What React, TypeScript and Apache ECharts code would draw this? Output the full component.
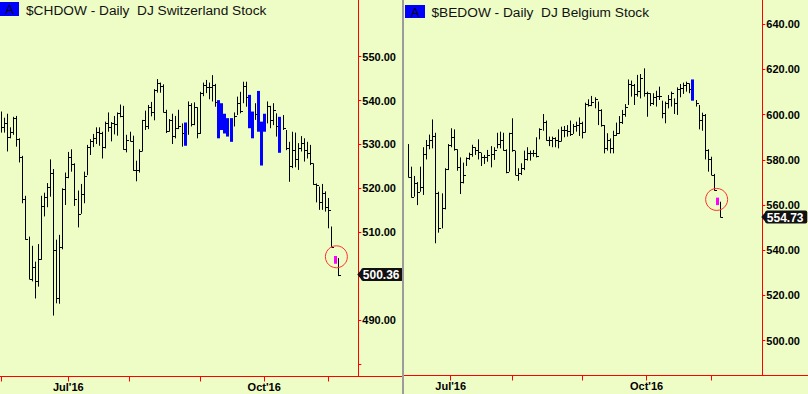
import React, { useEffect, useRef } from 'react';
import * as echarts from 'echarts';

// Trading-day index (0 = 1 Jun 2016) of the first session of each month
const monthTickIdx = [0, 22, 42, 65, 86, 107];
const quarterLabelIdx = [22, 86];
const quarterLabels = ["Jul'16", "Oct'16"];

// ---- $CHDOW (starts at index 0) ----
const chStart = 0;
const chHigh = [537.5,536.1,537.0,533.9,536.3,536.5,531.4,527.4,518.3,509.0, 506.9,503.3,507.3,518.3,519.0,521.2,526.6,524.4,508.3,509.4, 520.0,523.6,528.3,528.9,525.7,519.5,521.0,523.8,529.9,531.2, 532.4,533.9,533.9,532.9,535.2,537.3,535.1,536.5,537.3,539.1, 538.8,532.2,532.9,532.0,526.3,528.9,535.6,537.7,539.0,539.7, 542.6,544.9,544.1,543.7,537.9,535.8,537.0,536.5,537.9,534.8, 535.0,539.8,539.4,539.6,538.5,542.0,544.1,544.7,544.1,545.8, 543.8,540.1,539.4,537.0,536.0,536.0,537.3,540.9,542.0,544.3, 544.3,541.3,537.5,539.4,542.2,535.2,537.0,539.8,538.8,539.4, 537.1,536.3,536.7,533.3,530.6,532.9,532.7,530.3,531.9,531.4, 530.6,529.9,525.7,521.1,520.4,521.0,519.3,517.8,511.3,504.6, 504.1];
const chLow = [532.7,532.7,528.4,531.4,532.2,529.5,525.9,516.6,508.3,499.3, 498.8,494.9,497.6,503.7,513.6,515.7,518.1,491.0,493.8,493.7, 506.1,516.2,522.3,523.8,516.0,511.1,514.2,516.6,523.0,527.6, 529.4,530.1,529.7,526.8,529.1,532.9,530.7,532.3,532.0,536.2, 528.8,528.2,530.7,524.0,521.6,523.6,528.4,533.3,533.5,536.4, 535.5,541.8,541.8,537.3,532.6,532.9,530.1,531.4,533.5,529.5, 529.7,532.2,534.1,534.4,531.4,532.4,541.0,541.7,540.3,539.8, 538.6,531.4,533.3,532.5,531.8,530.6,534.1,536.7,537.1,539.4, 538.6,533.7,531.4,535.6,532.9,525.2,532.9,534.8,533.7,534.4, 531.8,528.1,533.3,528.7,521.5,524.6,524.8,524.2,528.4,526.1, 526.8,525.3,520.8,516.8,515.1,515.1,514.7,510.9,506.6,502.8, 500.0];
const chClose = [533.9,534.8,531.8,532.9,536.0,531.3,527.1,517.5,508.4,499.3, 502.0,498.8,503.9,516.0,518.1,520.3,523.5,506.0,494.9,506.6, 519.9,522.5,527.1,525.6,517.5,514.2,518.8,522.9,529.4,530.9, 531.4,532.9,532.7,529.4,535.0,533.9,534.8,534.7,537.1,536.4, 528.9,531.1,530.9,524.2,524.1,528.5,535.5,534.1,538.5,537.3, 542.4,544.0,543.4,537.5,533.0,535.6,531.9,533.7,534.2,532.7, 532.0,539.1,534.6,538.5,532.5,541.7,543.6,543.0,543.2,543.6, 539.6,533.0,535.0,534.0,533.0,535.0,536.5,539.4,537.7,543.3, 540.9,535.0,533.0,537.0,535.0,533.0,535.0,538.8,535.6,537.9, 534.1,532.0,533.7,529.1,525.0,528.7,526.6,529.1,530.3,528.7, 528.0,525.7,521.1,520.8,517.0,518.9,515.8,515.1,506.7,503.5, 500.36];
const chBlueIdx = [60, 71, 72, 73, 74, 75, 81, 82, 84, 85, 86, 91];
const chPinkIdx = [109];
const chCircle = [109.6, 504.4];
const chYTicks = [480, 490, 500, 510, 520, 530, 540, 550];
const chYLabels = [490, 510, 520, 530, 540, 550];

// ---- $BEDOW (starts at index 8) ----
const beStart = 8;
const beHigh = [587.0,577.0,572.9,570.2,577.0,585.6,588.8,591.2,597.9,592.0, 565.9,565.2,576.3,587.0,594.0,593.5,584.7,581.1,578.8,581.1, 583.2,586.7,585.6,589.1,583.2,582.2,584.4,586.1,585.6,592.0, 592.5,592.0,584.7,592.0,598.4,584.1,576.3,578.5,584.1,585.6, 584.1,584.4,590.0,594.0,600.3,597.4,590.3,590.3,590.0,593.5, 594.7,595.0,595.4,597.4,595.9,596.9,598.8,596.9,605.3,606.8, 608.3,607.7,605.8,602.4,595.4,591.8,589.5,592.9,596.5,599.4, 602.1,604.7,615.6,615.1,613.6,617.6,618.0,620.5,610.2,609.5, 609.5,610.6,612.4,606.2,605.8,608.7,610.2,607.2,612.1,613.6, 614.2,614.6,613.9,615.6,606.5,604.3,600.9,600.3,584.7,581.4, 573.8,563.3,561.5];
const beLow = [572.3,563.4,563.7,560.0,565.9,564.5,580.2,584.7,585.1,543.1, 547.8,549.7,558.1,575.5,585.6,584.1,575.2,564.9,569.6,577.3, 580.0,581.4,582.2,580.2,577.3,578.2,579.2,576.7,580.0,585.1, 585.1,584.1,574.1,574.8,583.6,573.3,570.8,573.3,575.5,579.7, 579.7,581.4,581.1,589.1,592.9,588.5,586.1,585.6,585.6,585.1, 588.1,590.0,590.3,590.6,591.5,592.5,590.6,589.5,592.0,603.6, 603.8,602.8,595.4,594.7,582.9,584.1,582.9,582.9,590.6,591.5, 595.9,599.1,604.3,608.0,604.3,608.0,607.2,608.0,599.1,603.8, 604.3,603.6,606.5,598.4,596.2,602.8,603.6,600.3,599.9,607.7, 609.2,610.2,609.5,606.2,603.6,593.5,592.9,580.2,574.8,573.3, 566.4,560.0,554.6];
const beClose = [572.3,563.7,569.6,565.9,568.2,582.6,586.6,588.8,590.6,565.2, 549.7,558.6,575.8,586.6,590.3,584.7,576.7,570.4,573.3,580.7, 582.6,585.6,584.4,583.6,581.1,581.4,582.2,582.6,584.4,587.0, 588.8,584.4,574.8,591.8,584.4,573.3,574.1,576.3,580.2,582.9, 582.9,582.9,581.7,593.5,596.9,588.8,588.8,589.5,588.8,588.5, 593.2,593.2,592.9,591.5,595.0,595.4,596.5,592.5,604.7,604.3, 605.8,606.8,602.1,595.4,585.1,588.8,585.1,591.0,592.0,596.9, 600.3,603.6,613.6,613.1,609.2,610.6,616.1,609.5,609.7,605.0, 608.0,608.3,608.3,600.9,605.0,606.8,609.7,605.3,611.2,611.7, 613.1,613.9,611.2,610.0,605.0,597.7,599.9,584.4,580.2,573.3, 566.7,561.0,554.73];
const beBlueIdx = [101];
const bePinkIdx = [109];
const beCircle = [108.9, 562.5];
const beYTicks = [500, 520, 540, 560, 580, 600, 620, 640];
const beYLabels = [500, 520, 540, 560, 580, 600, 620, 640];

const BG = '#eefdc6';
const RED = '#ff0000';
const FONT = '"Liberation Sans", Arial, sans-serif';

function buildData(start: number, hi: number[], lo: number[], cl: number[], blue: number[], pink: number[]) {
  return hi.map((h, k) => {
    const i = start + k;
    const kind = blue.includes(i) ? 1 : pink.includes(i) ? 2 : 0;
    return [i, h, lo[k], cl[k], kind];
  });
}

const renderBar = (_params: any, api: any) => {
  const i = api.value(0);
  const top = api.coord([i, api.value(1)]);
  const bot = api.coord([i, api.value(2)]);
  const cl = api.coord([i, api.value(3)]);
  const kind = api.value(4);
  const px = Math.round(top[0]);
  if (kind === 1 || kind === 2) {
    return {
      type: 'rect',
      shape: { x: px - 1, y: top[1], width: 3, height: Math.max(1, bot[1] - top[1]) },
      style: { fill: kind === 1 ? '#0000ff' : '#ff00ff' },
    };
  }
  const x = px + 0.5;
  const cy = Math.round(cl[1]) + 0.5;
  return {
    type: 'group',
    children: [
      { type: 'line', shape: { x1: x, y1: top[1], x2: x, y2: bot[1] }, style: { stroke: '#000', lineWidth: 1 } },
      { type: 'line', shape: { x1: x, y1: cy, x2: x + 2.5, y2: cy }, style: { stroke: '#000', lineWidth: 1 } },
    ],
  };
};

const xAxisCfg = (gridIndex: number, min: number, max: number) => ({
  type: 'value',
  gridIndex,
  min,
  max,
  axisLine: { show: true, onZero: false, lineStyle: { color: RED, width: 1 } },
  axisTick: { show: true, length: 5, customValues: monthTickIdx, lineStyle: { color: RED, width: 1 } },
  axisLabel: {
    customValues: quarterLabelIdx,
    formatter: (v: number) => {
      const k = quarterLabelIdx.indexOf(Math.round(v));
      return k >= 0 ? quarterLabels[k] : '';
    },
    fontFamily: FONT,
    fontWeight: 'bold',
    fontSize: 11,
    color: '#000',
    margin: 5,
  },
  splitLine: { show: false },
});

const yAxisCfg = (gridIndex: number, min: number, max: number, ticks: number[], labels: number[]) => ({
  type: 'value',
  gridIndex,
  position: 'right',
  min,
  max,
  axisLine: { show: true, onZero: false, lineStyle: { color: RED, width: 1 } },
  axisTick: { show: true, length: 3, customValues: ticks, lineStyle: { color: RED, width: 1 } },
  axisLabel: {
    customValues: labels,
    formatter: (v: number) => v.toFixed(2),
    fontFamily: FONT,
    fontWeight: 'bold',
    fontSize: 11,
    color: '#000',
    margin: 4,
  },
  splitLine: { show: false },
});

export default function App() {
  const ref = useRef<HTMLDivElement>(null);

  useEffect(() => {
    if (!ref.current) return;
    const chart = echarts.init(ref.current, null, { renderer: 'svg' });

    const chData = buildData(chStart, chHigh, chLow, chClose, chBlueIdx, chPinkIdx);
    const beData = buildData(beStart, beHigh, beLow, beClose, beBlueIdx, bePinkIdx);

    chart.setOption({
      animation: false,
      backgroundColor: BG,
      grid: [
        { left: 0, top: 0, width: 358.3, height: 376.5 },
        { left: 404, top: 0, width: 358.3, height: 375.5 },
      ],
      xAxis: [xAxisCfg(0, -0.327, 116.76), xAxisCfg(1, 6.73, 123.82)],
      yAxis: [
        yAxisCfg(0, 477.12, 562.92, chYTicks, chYLabels),
        yAxisCfg(1, 484.6, 650.75, beYTicks, beYLabels),
      ],
      series: [
        { type: 'custom', xAxisIndex: 0, yAxisIndex: 0, renderItem: renderBar, data: chData, encode: { x: 0, y: [1, 2] }, clip: true, silent: true },
        { type: 'custom', xAxisIndex: 1, yAxisIndex: 1, renderItem: renderBar, data: beData, encode: { x: 0, y: [1, 2] }, clip: true, silent: true },
      ],
    });

    const priceBox = (gridIndex: number, value: number) => {
      const p = chart.convertToPixel({ gridIndex }, [0, value]) as number[];
      const axisX = gridIndex === 0 ? 358.3 : 762.3;
      const yC = p[1];
      return [
        {
          type: 'polygon', z: 100,
          shape: { points: [[axisX - 1, yC], [axisX + 4, yC - 6], [axisX + 4, yC + 6]] },
          style: { fill: '#111' },
        },
        {
          type: 'rect', z: 100,
          shape: { x: axisX + 3, y: yC - 6.5, width: 42, height: 13, r: 2 },
          style: { fill: '#111' },
        },
        {
          type: 'text', z: 101, x: axisX + 4.5, y: yC + 0.5,
          style: { text: value.toFixed(2), fill: '#fff', fontFamily: FONT, fontWeight: 'bold', fontSize: 12, align: 'left', verticalAlign: 'middle' },
        },
      ];
    };

    const circle = (gridIndex: number, pt: number[]) => {
      const p = chart.convertToPixel({ gridIndex }, pt) as number[];
      return {
        type: 'circle', z: 100,
        shape: { cx: p[0], cy: p[1], r: 11 },
        style: { fill: 'none', stroke: '#ff3030', lineWidth: 1 },
      };
    };

    chart.setOption({
      graphic: [
        // axis line extensions
        { type: 'line', z: 90, shape: { x1: 358, y1: 376.5, x2: 403, y2: 376.5 }, style: { stroke: RED, lineWidth: 1 } },
        { type: 'line', z: 90, shape: { x1: 762, y1: 375.5, x2: 808, y2: 375.5 }, style: { stroke: RED, lineWidth: 1 } },
        circle(0, chCircle),
        circle(1, beCircle),
        ...priceBox(0, chClose[chClose.length - 1]),
        ...priceBox(1, beClose[beClose.length - 1]),
        // panel separator
        { type: 'rect', z: 110, shape: { x: 402, y: 0, width: 2, height: 394 }, style: { fill: '#9c9c9c' } },
        // titles
        { type: 'rect', z: 110, shape: { x: 0, y: 2, width: 19, height: 14 }, style: { fill: '#0000ff' } },
        { type: 'text', z: 111, x: 9.5, y: 9.5, style: { text: 'A', fill: '#000', fontFamily: FONT, fontSize: 13, align: 'center', verticalAlign: 'middle' } },
        { type: 'text', z: 111, x: 26, y: 10, style: { text: '$CHDOW - Daily  DJ Switzerland Stock', fill: '#111', fontFamily: FONT, fontSize: 13.7, align: 'left', verticalAlign: 'middle' } },
        { type: 'rect', z: 110, shape: { x: 405, y: 5, width: 20, height: 13 }, style: { fill: '#0000ff' } },
        { type: 'text', z: 111, x: 415, y: 12, style: { text: 'A', fill: '#000', fontFamily: FONT, fontSize: 13, align: 'center', verticalAlign: 'middle' } },
        { type: 'text', z: 111, x: 431.5, y: 12, style: { text: '$BEDOW - Daily  DJ Belgium Stock', fill: '#111', fontFamily: FONT, fontSize: 13.7, align: 'left', verticalAlign: 'middle' } },
      ],
    });

    return () => chart.dispose();
  }, []);

  return <div ref={ref} style={{ position: 'fixed', left: 0, top: 0, width: 808, height: 394 }} />;
}
